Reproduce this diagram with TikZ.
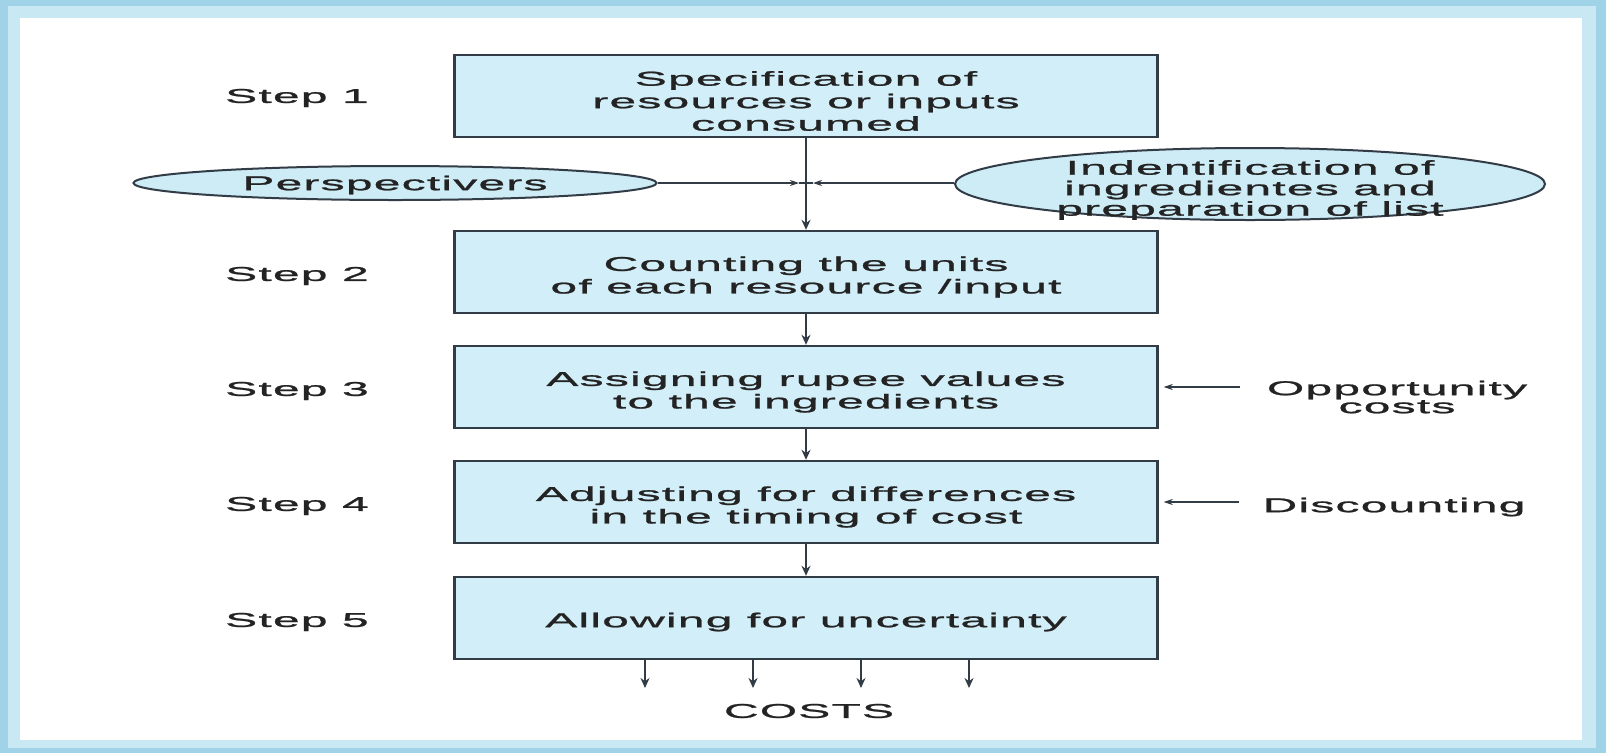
\documentclass[tikz,border=0pt]{standalone}
\usepackage{fontspec}
\newfontfamily\widefont[FakeStretch=2.4,LetterSpace=6,FakeBold=1.2]{Liberation Sans}
\usetikzlibrary{shapes.geometric,arrows.meta,calc}
\definecolor{framecol}{RGB}{160,210,232}
\definecolor{framein}{RGB}{200,232,244}
\definecolor{boxfill}{RGB}{210,238,248}
\definecolor{ellfill}{RGB}{205,236,246}
\definecolor{linecol}{RGB}{50,60,70}
\definecolor{txtcol}{RGB}{35,35,35}
\begin{document}
\begin{tikzpicture}[x=1pt,y=-1pt,
  lbl/.style={font=\widefont\fontsize{20}{22.5}\selectfont, text=txtcol, align=center, inner sep=0pt},
  stepbox/.style={draw=linecol, line width=2.4pt, fill=boxfill, rectangle, minimum width=703pt, minimum height=82pt, inner sep=0pt},
  ellnode/.style={draw=linecol, line width=2pt, fill=ellfill, ellipse, inner sep=0pt},
  mainline/.style={draw=linecol, line width=2.6pt},
  thinline/.style={draw=linecol, line width=1.3pt},
  tipbig/.style={-{Stealth[length=10pt,width=9pt]}},
  tipsmall/.style={-{Stealth[length=9pt,width=6pt]}}
]
\useasboundingbox (0,0) rectangle (1606,753);
\fill[framecol] (0,0) rectangle (1606,753);
\fill[framein] (8,6) rectangle (1596,748);
\fill[white] (20,18) rectangle (1582,740);

% step boxes
\node[stepbox] (b1) at (806,96) {};
\node[stepbox] (b2) at (806,272) {};
\node[stepbox] (b3) at (806,387) {};
\node[stepbox] (b4) at (806,502) {};
\node[stepbox] (b5) at (806,618) {};
\node[lbl] (b1t) at ($(b1)+(0,5)$) {Specification of\\resources or inputs\\consumed};
\node[lbl] (b2t) at ($(b2)+(0,5)$) {Counting the units\\of each resource /input};
\node[lbl] (b3t) at ($(b3)+(0,5)$) {Assigning rupee values\\to the ingredients};
\node[lbl] (b4t) at ($(b4)+(0,5)$) {Adjusting for differences\\in the timing of cost};
\node[lbl] (b5t) at ($(b5)+(0,4)$) {Allowing for uncertainty};

% step labels
\node[lbl] (s1) at (297,98) {Step 1};
\node[lbl] (s2) at (297,276) {Step 2};
\node[lbl] (s3) at (297,391) {Step 3};
\node[lbl] (s4) at (297,506) {Step 4};
\node[lbl] (s5) at (297,622) {Step 5};

% ellipses
\node[ellnode, minimum width=523pt, minimum height=34pt] (per) at (395,183) {};
\node[lbl] (pert) at ($(per)+(0,2)$) {Perspectivers};
\node[ellnode, minimum width=590pt, minimum height=72pt] (ing) at (1250,184) {};
\node[lbl, font=\widefont\fontsize{20}{20.5}\selectfont] (ingt) at (1250,190) {Indentification of\\ingredientes and\\preparation of list};

% main flow
\coordinate (j) at (b1.south |- per.east);
\coordinate (jl) at ($(j)+(-7,0)$);
\coordinate (jr) at ($(j)+(7,0)$);
\draw[mainline, tipbig] (b1.south) -- (b2.north);
\draw[thinline, tipsmall] (per.east) -- (jl);
\draw[thinline] (jl) -- (j);
\draw[thinline, tipsmall] (ing.west |- j) -- (jr);
\draw[thinline] (jr) -- (j);
\draw[mainline, tipbig] (b2.south) -- (b3.north);
\draw[mainline, tipbig] (b3.south) -- (b4.north);
\draw[mainline, tipbig] (b4.south) -- (b5.north);

% side inputs
\node[lbl, font=\widefont\fontsize{20}{18}\selectfont] (opp) at (1397,397) {Opportunity\\costs};
\draw[thinline, tipsmall, shorten <=27pt, shorten >=5pt] (opp.west |- b3.east) -- (b3.east);
\node[lbl] (disc) at (1394,507) {Discounting};
\draw[thinline, tipsmall, shorten <=23pt, shorten >=5pt] (disc.west |- b4.east) -- (b4.east);

% outputs
\coordinate (c1) at (645,688);
\coordinate (c2) at (753,688);
\coordinate (c3) at (861,688);
\coordinate (c4) at (969,688);
\draw[mainline, line width=2pt, tipbig] (c1 |- b5.south) -- (c1);
\draw[mainline, line width=2pt, tipbig] (c2 |- b5.south) -- (c2);
\draw[mainline, line width=2pt, tipbig] (c3 |- b5.south) -- (c3);
\draw[mainline, line width=2pt, tipbig] (c4 |- b5.south) -- (c4);
\node[lbl] (costs) at (809,711) {COSTS};
\end{tikzpicture}
\end{document}
